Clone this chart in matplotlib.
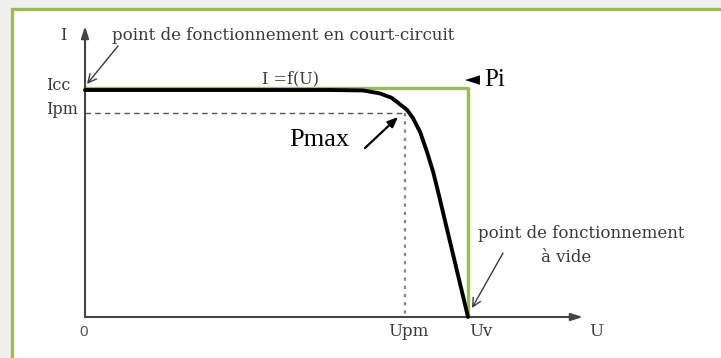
import matplotlib
matplotlib.use("Agg")
import matplotlib.pyplot as plt
from matplotlib.patches import Rectangle
import numpy as np

# Data (normalised units: U/Uv, I/Icc)
Icc = 1.0
Ipm = 0.899
Upm = 0.836
Uv = 1.0
Pi_level = 1.01
curve_U = [0.0, 0.640, 0.726, 0.770, 0.800, 0.815, 0.841, 0.856, 0.875, 0.893, 0.909, 0.922, 1.0]
curve_I = [1.0, 1.0, 0.998, 0.985, 0.966, 0.947, 0.912, 0.877, 0.815, 0.727, 0.639, 0.551, 0.0]

W, H = 721, 358
fig = plt.figure(figsize=(W / 100, H / 100), dpi=100)
fig.patch.set_facecolor("#efefef")

# frame (figure coords)
frame = Rectangle((12 / W, -0.05), 1.1, (H - 9) / H + 0.05, transform=fig.transFigure,
                  facecolor="white", edgecolor="#9bbb59", linewidth=2.4, zorder=-10)
fig.add_artist(frame)

ax = fig.add_axes([0, 0, 1, 1])
ax.set_zorder(5)
ax.set_facecolor("none")
x0, sx = 85, 383.0
y0, sy = 317, 227.0
ax.set_xlim(-x0 / sx, (W - x0) / sx)
ax.set_ylim(-(H - y0) / sy, y0 / sy)
ax.axis("off")

def px(x, y):
    return ((x - x0) / sx, (y0 - y) / sy)

serif = ["Liberation Serif", "DejaVu Serif"]
wserif = ["DejaVu Serif"]
grey = "#3a3a3a"

# axes with arrows
ax.annotate("", xy=px(583, 317), xytext=px(85, 317),
            arrowprops=dict(arrowstyle="-|>,head_length=0.7,head_width=0.22", color="#444444", lw=1.5,
                            shrinkA=0, shrinkB=0))
ax.annotate("", xy=px(85, 26), xytext=px(85, 317),
            arrowprops=dict(arrowstyle="-|>,head_length=0.7,head_width=0.22", color="#444444", lw=1.5,
                            shrinkA=0, shrinkB=0))

# Pi rectangle (green)
ax.plot([0, Uv, Uv], [Pi_level, Pi_level, 0], color="#9bbb59", lw=2.4, solid_capstyle="butt", zorder=2)

# Ipm dashed, Upm dotted
ax.plot([0, Upm], [Ipm, Ipm], color="#555555", lw=1.0, ls=(0, (4, 3)), zorder=1)
ax.plot([Upm, Upm], [Ipm, 0], color="#888888", lw=1.6, ls=(0, (1.5, 2.2)), zorder=1)

# I=f(U) curve
ax.plot(curve_U, curve_I, color="black", lw=2.8, zorder=3, solid_capstyle="round",
        solid_joinstyle="round")

# labels
ax.text(*px(63, 36), "I", fontsize=11.5, family=wserif, color=grey, ha="center", va="center")
ax.text(*px(112, 35), "point de fonctionnement en court-circuit", fontsize=12, family=wserif,
        color=grey, ha="left", va="center")
ax.text(*px(46, 85), "Icc", fontsize=11.5, family=wserif, color=grey, ha="left", va="center")
ax.text(*px(46, 109), "Ipm", fontsize=11.5, family=wserif, color=grey, ha="left", va="center")
ax.text(*px(291, 79), "I =f(U)", fontsize=11.5, family=wserif, color=grey, ha="center", va="center")
ax.text(*px(465, 80), "◄", fontsize=14, family=["DejaVu Sans"], color="black",
        ha="left", va="center")
ax.text(*px(484, 80), "Pi", fontsize=18, family=serif, color="black", ha="left", va="center")
ax.text(*px(319, 140), "Pmax", fontsize=19, family=serif, color="black", ha="center", va="center")
ax.text(*px(84, 332), "0", fontsize=11, family="Liberation Sans", color="#555555", ha="center", va="center")
ax.text(*px(408, 332), "Upm", fontsize=12, family=wserif, color=grey, ha="center", va="center")
ax.text(*px(481, 332), "Uv", fontsize=12, family=wserif, color=grey, ha="center", va="center")
ax.text(*px(596, 332), "U", fontsize=12, family=wserif, color=grey, ha="center", va="center")
ax.text(*px(581, 233), "point de fonctionnement", fontsize=12, family=wserif, color=grey,
        ha="center", va="center")
ax.text(*px(566, 258), "à vide", fontsize=12, family=wserif, color=grey, ha="center", va="center")

# annotation arrows
ax.annotate("", xy=px(87, 84), xytext=px(118, 46),
            arrowprops=dict(arrowstyle="->,head_length=0.6,head_width=0.3", color=grey, lw=1.0,
                            shrinkA=0, shrinkB=0))
ax.annotate("", xy=px(398, 117), xytext=px(365, 148),
            arrowprops=dict(arrowstyle="-|>,head_length=0.6,head_width=0.25", color="black", lw=1.6,
                            shrinkA=0, shrinkB=0))
ax.annotate("", xy=px(472, 308), xytext=px(503, 253),
            arrowprops=dict(arrowstyle="->,head_length=0.6,head_width=0.3", color=grey, lw=1.0,
                            shrinkA=0, shrinkB=0))

fig.savefig("out.png", dpi=100, facecolor=fig.get_facecolor())
